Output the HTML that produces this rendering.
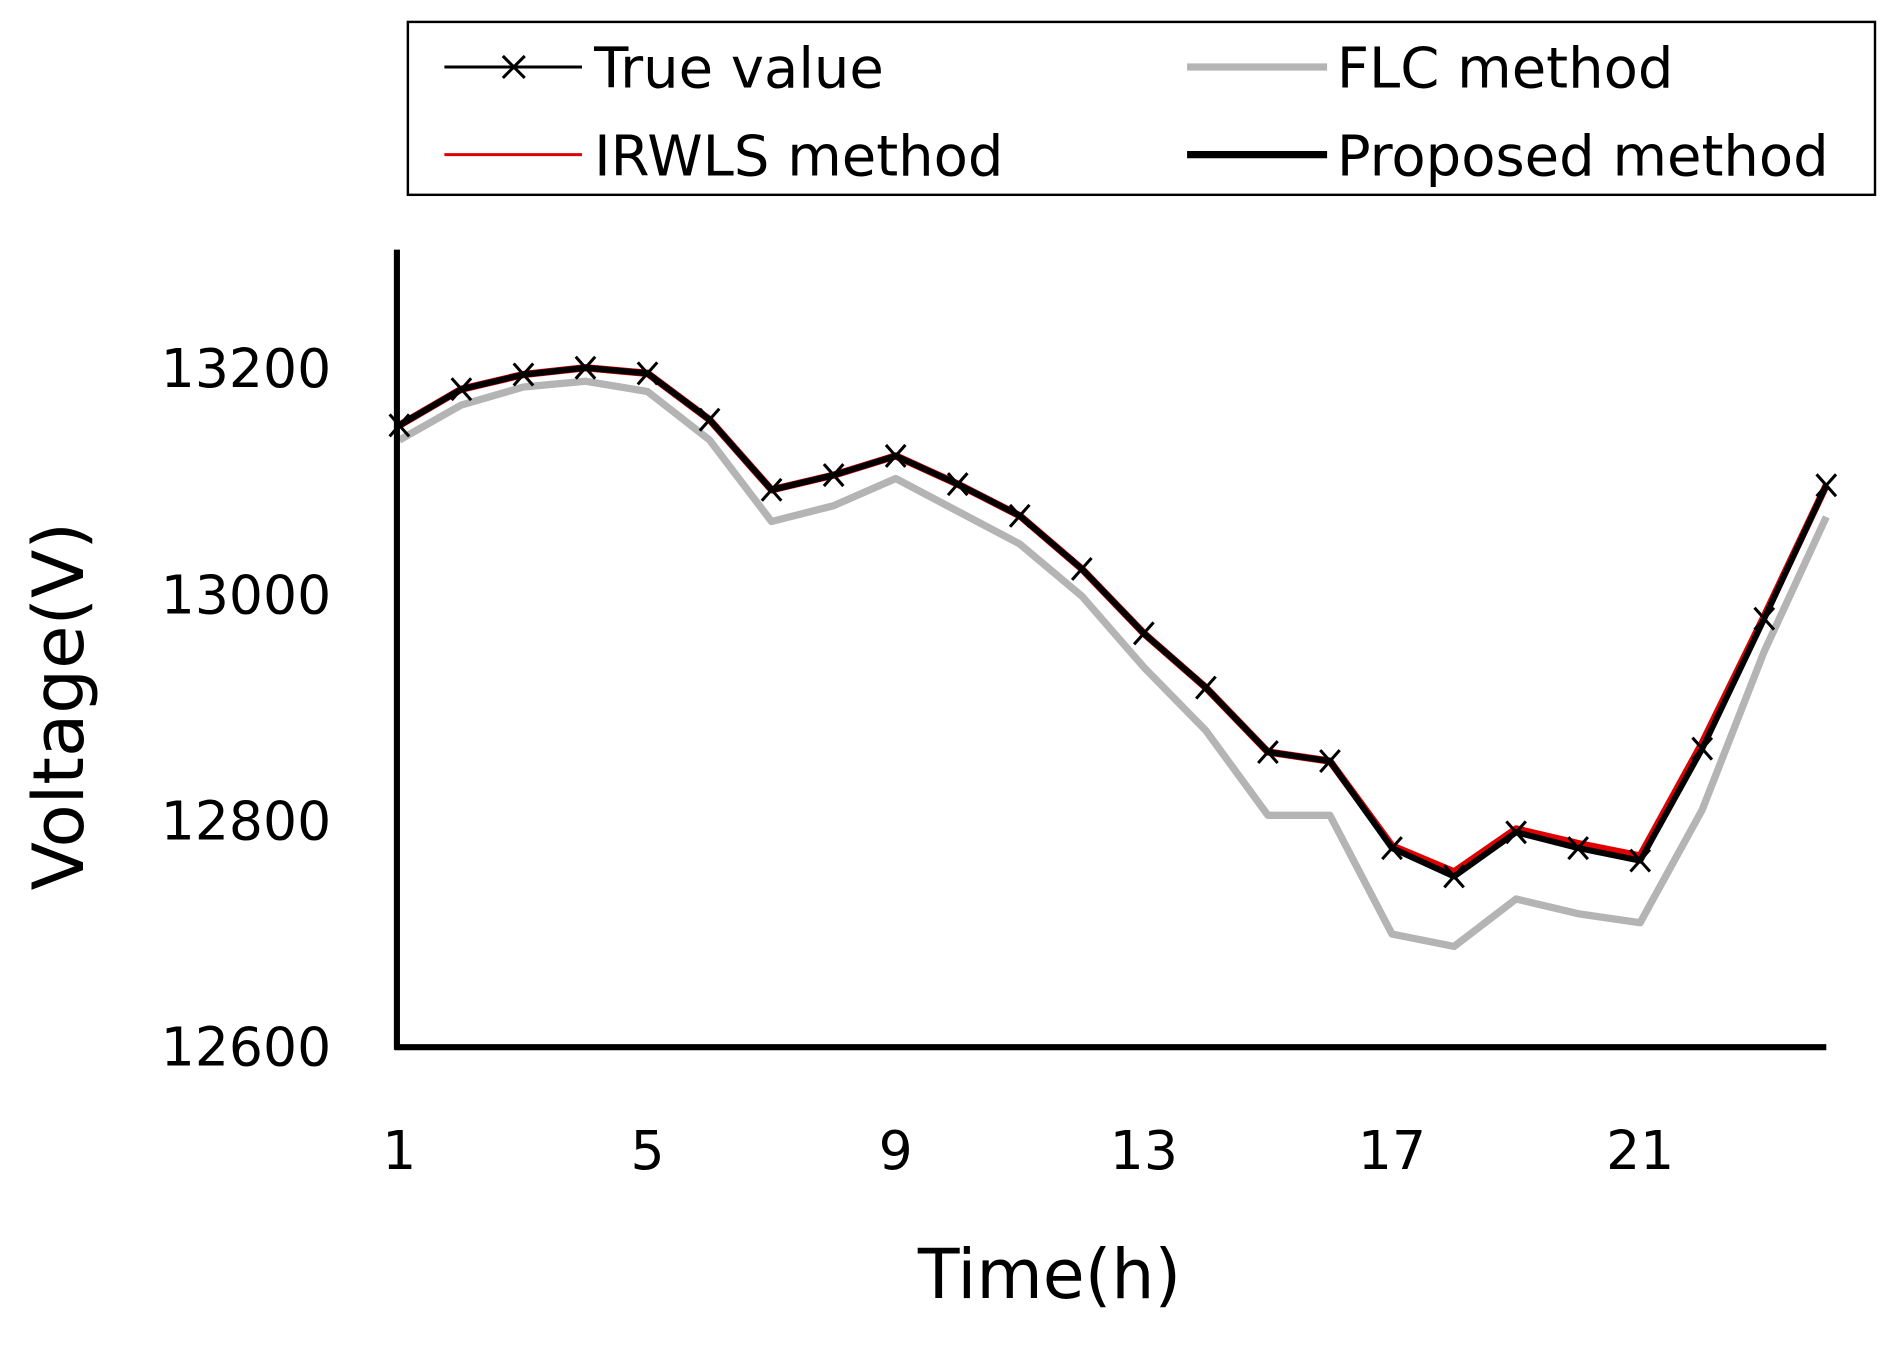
<!DOCTYPE html>
<html><head><meta charset="utf-8"><style>
html,body{margin:0;padding:0;background:#fff;}
svg{display:block;font-family:"DejaVu Sans","Liberation Sans",sans-serif;}
</style></head><body>
<svg id="chart" width="1903" height="1354" viewBox="0 0 1563 1112" preserveAspectRatio="none" xmlns="http://www.w3.org/2000/svg">
<rect width="1563" height="1112" fill="#fff"/>
<g>
<rect x="335" y="18" width="1205" height="142" fill="#fff" stroke="#000" stroke-width="2"/>
<g>
<line x1="365" y1="55" x2="478" y2="55" stroke="#000" stroke-width="2.5"/>
<path d="M413 46 L431 64 M431 46 L413 64" stroke="#000" stroke-width="2.5"/>
<text x="488" y="72" font-size="46">True value</text></g>
<g>
<line x1="975" y1="55" x2="1090" y2="55" stroke="#b4b4b4" stroke-width="6"/>
<text x="1098" y="72" font-size="46">FLC method</text></g>
<g>
<line x1="365" y1="127" x2="478" y2="127" stroke="#e00000" stroke-width="2.5"/>
<text x="488" y="144" font-size="46">IRWLS method</text></g>
<g>
<line x1="975" y1="127" x2="1090" y2="127" stroke="#000" stroke-width="6"/>
<text x="1098" y="144" font-size="46">Proposed method</text></g>
</g>
<g id="plot"></g>
<text transform="translate(68,580) rotate(-90)" text-anchor="middle" font-size="58">Voltage(V)</text>
<text x="862" y="1066" text-anchor="middle" font-size="56">Time(h)</text>
</svg>
<script>
const hours = [1,2,3,4,5,6,7,8,9,10,11,12,13,14,15,16,17,18,19,20,21,22,23,24];
const trueValue = [13149,13181,13194,13200,13195,13154,13092,13105,13122,13097,13069,13022,12965,12917,12860,12852,12775,12750,12789,12775,12764,12863,12978,13096];
const flcValue = [13136,13167,13183,13188,13179,13136,13064,13078,13102,13073,13044,12998,12935,12879,12804,12804,12699,12688,12730,12717,12709,12809,12949,13068];
const irwlsValue = [13149,13181,13194,13200,13195,13154,13092,13105,13122,13097,13069,13022,12965,12917,12860,12852,12777,12754,12792,12779,12768,12868,12980,13096];
const proposedValue = [13149,13181,13194,13200,13195,13154,13092,13105,13122,13097,13069,13022,12965,12917,12860,12852,12775,12750,12789,12775,12764,12863,12978,13096];
const yTicks = [12600,12800,13000,13200];
const xTicks = [1,5,9,13,17,21];

const NS = "http://www.w3.org/2000/svg";
const g = document.getElementById('plot');
const xS = h => 328 + (h - 1) * (1500 - 328) / 23;
const yS = v => 859 - (v - 12600) * (859 - 302) / 600;
function mk(tag, attrs){const e=document.createElementNS(NS,tag);for(const k in attrs)e.setAttribute(k,attrs[k]);g.appendChild(e);return e;}
function pts(arr){return arr.map((v,i)=>xS(hours[i]).toFixed(1)+','+yS(v).toFixed(1)).join(' ');}

let e;
e = mk('polyline',{points:pts(flcValue),fill:'none',stroke:'#b4b4b4','stroke-width':6,'stroke-linejoin':'round'});


e = mk('polyline',{points:pts(irwlsValue),fill:'none',stroke:'#e00000','stroke-width':6,'stroke-linejoin':'round'});


e = mk('polyline',{points:pts(proposedValue),fill:'none',stroke:'#000','stroke-width':5,'stroke-linejoin':'round'});


e = mk('polyline',{points:pts(trueValue),fill:'none',stroke:'#000','stroke-width':2,'stroke-linejoin':'round'});


trueValue.forEach((v,i)=>{
  const x=xS(hours[i]), y=yS(v);
  const m = mk('path',{d:`M${x-8} ${y-9} L${x+8} ${y+9} M${x+8} ${y-9} L${x-8} ${y+9}`,stroke:'#000','stroke-width':2.5});
  
  
});
e = mk('line',{x1:326,y1:205,x2:326,y2:862,stroke:'#000','stroke-width':5});


e = mk('line',{x1:324,y1:860,x2:1500,y2:860,stroke:'#000','stroke-width':5});


yTicks.forEach(t=>{
  const tx = mk('text',{x:272,y:yS(t)+16,'text-anchor':'end','font-size':44});
  tx.textContent=t;
  
  
});
xTicks.forEach(t=>{
  const tx = mk('text',{x:xS(t),y:960,'text-anchor':'middle','font-size':44});
  tx.textContent=t;
  
  
});
</script>
</body></html>
